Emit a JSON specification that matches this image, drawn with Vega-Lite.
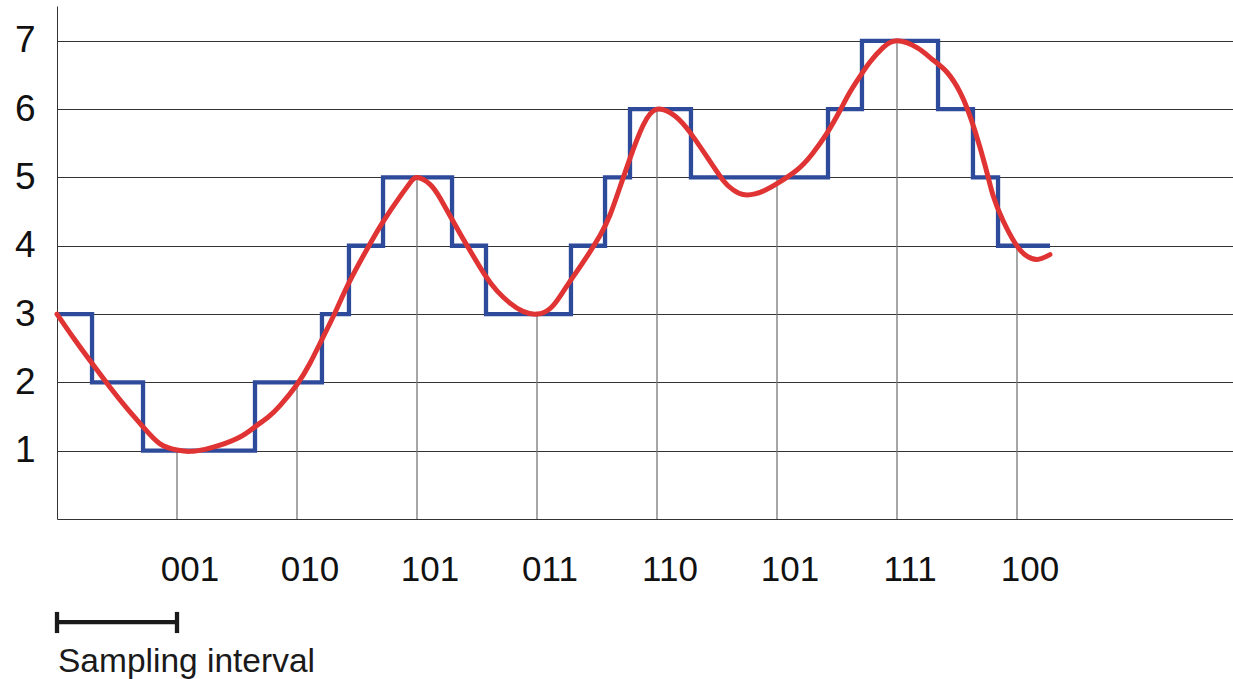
{
  "$schema": "https://vega.github.io/schema/vega-lite/v6.json",
  "width": 1176,
  "height": 513,
  "autosize": {"type": "none"},
  "padding": {"left": 57, "top": 6, "right": 0, "bottom": 160},
  "background": "white",
  "config": {"view": {"stroke": null}, "font": "Liberation Sans"},
  "datasets": {
    "signal": [
      {"t": 0.0, "v": 3.0}, {"t": 0.15, "v": 2.62}, {"t": 0.2917, "v": 2.28}, {"t": 0.4417, "v": 1.93},
      {"t": 0.5833, "v": 1.62}, {"t": 0.7167, "v": 1.35}, {"t": 0.8583, "v": 1.1}, {"t": 1.0, "v": 1.01},
      {"t": 1.1083, "v": 0.99}, {"t": 1.2333, "v": 1.02}, {"t": 1.3583, "v": 1.08}, {"t": 1.525, "v": 1.2},
      {"t": 1.65, "v": 1.35}, {"t": 1.7583, "v": 1.49}, {"t": 1.8583, "v": 1.66}, {"t": 2.0, "v": 1.97},
      {"t": 2.1083, "v": 2.28}, {"t": 2.2083, "v": 2.63}, {"t": 2.3167, "v": 3.02}, {"t": 2.4333, "v": 3.46},
      {"t": 2.5833, "v": 3.95}, {"t": 2.7167, "v": 4.35}, {"t": 2.8583, "v": 4.72}, {"t": 2.9417, "v": 4.92},
      {"t": 3.0, "v": 5.0}, {"t": 3.1083, "v": 4.9}, {"t": 3.1917, "v": 4.7}, {"t": 3.275, "v": 4.44},
      {"t": 3.3583, "v": 4.18}, {"t": 3.4417, "v": 3.93}, {"t": 3.5667, "v": 3.57}, {"t": 3.6667, "v": 3.34},
      {"t": 3.775, "v": 3.16}, {"t": 3.8833, "v": 3.04}, {"t": 4.0, "v": 3.0}, {"t": 4.1083, "v": 3.08},
      {"t": 4.1917, "v": 3.26}, {"t": 4.2833, "v": 3.5}, {"t": 4.4, "v": 3.8}, {"t": 4.525, "v": 4.15},
      {"t": 4.6083, "v": 4.45}, {"t": 4.6917, "v": 4.86}, {"t": 4.775, "v": 5.28}, {"t": 4.8833, "v": 5.76},
      {"t": 5.0, "v": 6.0}, {"t": 5.15, "v": 5.9}, {"t": 5.275, "v": 5.66}, {"t": 5.4167, "v": 5.3},
      {"t": 5.55, "v": 4.96}, {"t": 5.6333, "v": 4.82}, {"t": 5.7167, "v": 4.75}, {"t": 5.8167, "v": 4.76},
      {"t": 5.9083, "v": 4.82}, {"t": 6.0, "v": 4.91}, {"t": 6.1667, "v": 5.11}, {"t": 6.2917, "v": 5.34},
      {"t": 6.4167, "v": 5.65}, {"t": 6.525, "v": 5.98}, {"t": 6.6083, "v": 6.25}, {"t": 6.6917, "v": 6.48},
      {"t": 6.775, "v": 6.69}, {"t": 6.8833, "v": 6.9}, {"t": 7.0, "v": 7.0}, {"t": 7.1667, "v": 6.9},
      {"t": 7.3, "v": 6.72}, {"t": 7.4167, "v": 6.54}, {"t": 7.525, "v": 6.25}, {"t": 7.5917, "v": 5.98},
      {"t": 7.65, "v": 5.68}, {"t": 7.7333, "v": 5.18}, {"t": 7.8, "v": 4.74}, {"t": 7.8833, "v": 4.37},
      {"t": 7.9833, "v": 4.04}, {"t": 8.0667, "v": 3.87}, {"t": 8.1667, "v": 3.8}, {"t": 8.275, "v": 3.87}
    ],
    "quantized": [
      {"t": 0.0, "v": 3}, {"t": 0.292, "v": 2}, {"t": 0.717, "v": 1}, {"t": 1.65, "v": 2},
      {"t": 2.208, "v": 3}, {"t": 2.433, "v": 4}, {"t": 2.717, "v": 5}, {"t": 3.292, "v": 4},
      {"t": 3.575, "v": 3}, {"t": 4.283, "v": 4}, {"t": 4.567, "v": 5}, {"t": 4.775, "v": 6},
      {"t": 5.283, "v": 5}, {"t": 6.425, "v": 6}, {"t": 6.708, "v": 7}, {"t": 7.342, "v": 6},
      {"t": 7.633, "v": 5}, {"t": 7.842, "v": 4}, {"t": 8.275, "v": 4}
    ],
    "samples": [
      {"t": 1, "v": 1, "code": "001"}, {"t": 2, "v": 2, "code": "010"},
      {"t": 3, "v": 5, "code": "101"}, {"t": 4, "v": 3, "code": "011"},
      {"t": 5, "v": 6, "code": "110"}, {"t": 6, "v": 5, "code": "101"},
      {"t": 7, "v": 7, "code": "111"}, {"t": 8, "v": 4, "code": "100"}
    ]
  },
  "encoding": {
    "x": {
      "field": "t", "type": "quantitative",
      "scale": {"domain": [0, 9.8], "nice": false, "zero": false},
      "axis": {"labels": false, "ticks": false, "grid": false, "domain": true, "domainColor": "#333333", "domainWidth": 1, "title": null}
    },
    "y": {
      "field": "v", "type": "quantitative",
      "scale": {"domain": [0, 7.51], "nice": false, "zero": false},
      "axis": {
        "values": [1, 2, 3, 4, 5, 6, 7], "grid": true, "gridColor": "#333333", "gridWidth": 1, "gridOpacity": 1,
        "domain": true, "domainColor": "#333333", "domainWidth": 1, "ticks": false,
        "labelFontSize": 37, "labelFont": "Liberation Sans", "labelColor": "#111111", "labelPadding": 22, "title": null
      }
    }
  },
  "layer": [
    {
      "data": {"name": "samples"},
      "mark": {"type": "rule", "color": "#777777", "strokeWidth": 1.3},
      "encoding": {"y": {"datum": 0}, "y2": {"field": "v"}}
    },
    {
      "data": {"name": "samples"},
      "mark": {"type": "text", "fontSize": 35, "font": "Liberation Sans", "color": "#111111", "dx": 13, "baseline": "middle", "align": "center"},
      "encoding": {"y": {"datum": -0.75}, "text": {"field": "code"}}
    },
    {
      "data": {"name": "quantized"},
      "mark": {"type": "line", "interpolate": "step-after", "color": "#2E4A9A", "strokeWidth": 4.3, "strokeJoin": "miter", "strokeCap": "butt"},
      "encoding": {"order": {"field": "t"}}
    },
    {
      "data": {"name": "signal"},
      "mark": {"type": "line", "interpolate": "natural", "color": "#E03333", "strokeWidth": 5, "strokeCap": "round"},
      "encoding": {"order": {"field": "t"}}
    },
    {
      "data": {"name": "samples"},
      "transform": [{"filter": "datum.t == 1"}],
      "mark": {"type": "rule", "color": "#1a1a1a", "strokeWidth": 4.3},
      "encoding": {"x": {"datum": 0}, "x2": {"field": "t"}, "y": {"datum": -1.51}}
    },
    {
      "data": {"name": "samples"},
      "transform": [{"filter": "datum.t == 1"}],
      "mark": {"type": "rule", "color": "#1a1a1a", "strokeWidth": 4.3},
      "encoding": {"x": {"datum": 0}, "y": {"datum": -1.36}, "y2": {"datum": -1.67}}
    },
    {
      "data": {"name": "samples"},
      "transform": [{"filter": "datum.t == 1"}],
      "mark": {"type": "rule", "color": "#1a1a1a", "strokeWidth": 4.3},
      "encoding": {"y": {"datum": -1.36}, "y2": {"datum": -1.67}}
    },
    {
      "data": {"name": "samples"},
      "transform": [{"filter": "datum.t == 1"}],
      "mark": {"type": "text", "fontSize": 33.5, "font": "Liberation Sans", "color": "#1a1a1a", "align": "left", "baseline": "alphabetic", "dx": 1},
      "encoding": {"x": {"datum": 0}, "y": {"datum": -2.24}, "text": {"value": "Sampling interval"}}
    }
  ]
}
